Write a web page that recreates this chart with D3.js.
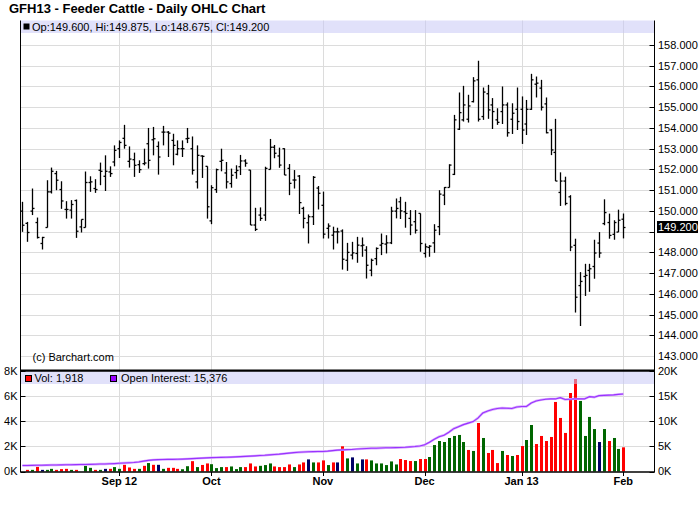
<!DOCTYPE html>
<html><head><meta charset="utf-8">
<script src="https://cdn.jsdelivr.net/npm/d3@7/dist/d3.min.js"></script>
<style>
body{margin:0;background:#fff;}
text{font-family:"Liberation Sans",Arial,sans-serif;}
</style></head>
<body><svg id="c" width="700" height="512"></svg>
<script>
// ---------- DATA ----------
const opens = [149.99,149.40,149.99,149.44,148.43,149.20,150.92,151.80,151.03,150.07,150.04,150.50,149.23,149.20,151.37,151.08,151.96,151.67,151.88,152.36,
153.00,153.50,152.39,152.47,152.23,152.28,153.24,153.43,153.11,153.80,153.80,153.40,152.73,153.00,153.48,153.00,151.40,152.65,152.15,149.52,
151.03,152.39,151.83,151.32,151.85,152.13,152.41,151.97,149.32,149.80,149.80,152.00,153.07,152.65,153.00,152.05,151.49,151.68,150.12,149.43,
149.72,151.10,150.27,149.16,148.83,148.99,149.03,147.62,147.87,147.95,148.32,148.11,147.14,147.70,148.35,148.40,148.46,149.99,150.44,149.96,
149.64,149.48,149.88,147.95,148.24,148.46,149.24,150.76,151.13,151.76,153.94,154.39,154.42,155.27,156.32,154.55,155.65,155.11,154.39,154.79,
155.11,154.42,154.90,154.90,154.19,154.90,156.11,155.92,155.16,153.90,152.82,150.89,151.44,150.68,148.34,146.40,146.84,147.13,147.32,148.45,
149.39,149.44,148.87,148.98,149.60];
const highs = [150.44,149.47,151.08,149.68,148.75,151.48,152.09,151.93,151.43,150.47,150.52,150.55,149.59,151.90,151.67,151.53,152.33,152.68,152.15,153.16,
153.40,154.15,153.11,152.81,152.44,153.00,154.00,154.05,153.35,154.10,153.85,153.72,153.40,153.40,154.00,153.59,153.16,152.68,152.15,151.24,
152.04,153.00,152.36,152.04,152.20,152.70,152.49,151.97,150.15,150.17,152.13,153.47,153.18,153.05,153.02,152.26,151.97,151.73,150.20,149.83,
151.68,151.20,150.93,149.40,149.24,149.19,149.11,148.46,148.51,148.75,148.72,148.30,147.70,148.24,148.91,148.83,150.20,150.60,150.68,150.44,
150.04,150.04,149.88,148.43,148.35,149.36,151.00,151.15,152.25,154.63,155.71,156.03,155.60,156.45,157.24,155.95,156.08,155.44,154.95,156.00,
155.23,155.19,155.95,155.52,155.35,156.61,156.48,156.32,155.47,153.95,154.44,151.86,151.65,150.76,148.66,147.05,147.45,147.45,148.61,148.98,
150.56,149.87,149.55,150.06,149.875];
const lows = [148.99,148.51,149.80,148.67,148.14,149.20,150.84,151.00,150.10,149.63,149.63,148.70,148.96,149.20,150.92,150.87,151.24,150.96,151.64,152.15,
152.55,153.00,152.09,151.64,151.83,152.20,152.04,152.68,151.75,153.16,152.60,152.20,152.68,152.60,153.27,151.75,151.08,151.59,149.63,149.36,
150.87,151.91,151.08,151.12,151.55,151.73,152.13,149.32,149.03,149.52,149.52,152.00,152.54,152.08,151.73,150.76,151.08,149.85,149.16,148.43,
149.32,150.07,148.67,148.67,148.14,148.43,147.17,147.11,147.66,147.50,147.79,146.74,146.85,147.38,147.87,147.95,148.40,149.64,149.61,149.19,
148.83,148.91,148.03,147.75,147.79,147.98,148.83,150.28,151.13,151.73,153.90,154.31,154.26,155.23,154.31,154.39,154.44,153.95,154.15,154.19,
153.58,153.71,153.90,153.23,153.66,154.87,155.47,154.84,153.74,152.69,151.44,150.24,150.27,148.06,145.10,144.45,145.90,146.10,146.73,147.74,
149.31,148.66,148.61,148.98,148.675];
const closes = [149.31,148.96,150.12,148.72,148.72,150.92,151.91,151.48,150.48,150.07,150.31,149.02,149.59,151.37,151.40,151.03,151.91,151.91,151.80,152.92,
153.30,153.16,152.50,152.20,151.99,152.31,152.44,153.48,152.60,153.80,153.75,153.16,153.00,153.00,153.50,151.96,152.68,152.63,150.20,151.12,
151.99,152.44,151.40,151.72,151.95,152.41,152.30,149.32,149.11,149.64,152.05,153.07,152.78,152.21,151.73,151.33,151.49,150.40,149.64,149.72,
151.62,150.85,148.88,149.27,148.99,148.99,147.67,148.00,147.98,148.35,148.35,147.38,147.62,148.19,148.43,148.46,149.99,150.12,150.00,149.88,
149.32,149.07,148.43,148.27,148.30,149.07,150.81,151.13,152.21,154.39,154.74,155.11,155.06,156.27,154.42,155.73,154.87,154.79,154.27,155.11,
153.77,154.71,154.31,153.90,154.90,156.32,156.16,155.00,153.77,152.94,151.44,151.44,150.36,148.26,145.84,146.60,146.89,147.21,147.97,147.97,
149.92,148.82,149.44,149.55,149.20];
// volume in thousands, direction vs previous close: u=up, d=down, n=unchanged
const volume = [0,0.13,0.13,0.37,0.13,0.13,0.21,0.13,0.19,0.21,0.13,0.13,0,0.45,0.29,0.13,0.13,0.21,0.21,0.35,
0.21,0.53,0.32,0.21,0.21,0.45,0.67,0.53,0.53,0.21,0.29,0.29,0.21,0.18,0.42,0.82,0.35,0.52,0.64,0.58,
0.27,0.35,0.35,0.40,0.19,0.35,0.35,0.64,0.40,0.45,0.51,0.64,0.40,0.35,0.35,0.56,0.35,0.56,0.72,0.96,
0.72,0.72,0.88,0.51,0.72,0.72,2.00,1.04,1.12,0.64,0.96,0.96,0.88,0.64,0.64,0.51,0.80,0.56,0.99,0.91,
0.83,0.83,0.99,0.99,1.15,2.10,2.42,2.34,2.66,2.82,2.90,2.34,1.71,1.63,3.85,2.66,1.47,1.71,0.67,1.63,
1.31,1.23,1.31,2.02,2.50,3.69,2.18,2.82,2.42,2.74,5.52,4.25,3.06,6.23,7.34,5.60,2.82,4.33,3.37,2.34,
3.37,2.42,2.66,1.79,1.918];
const volDir = ["u","d","u","d","n","u","u","d","d","d","u","d","u","u","u","d","u","n","d","u",
"u","d","d","d","u","d","u","d","n","u","d","d","d","u","u","d","u","d","d","u",
"u","u","d","u","u","u","d","d","d","u","u","u","d","d","d","d","u","d","d","n",
"u","d","d","u","d","n","d","u","n","u","n","d","u","u","u","u","u","u","d","d",
"d","u","d","d","u","u","u","u","u","u","u","u","d","u","d","u","d","d","d","u",
"d","u","d","d","u","u","d","d","d","d","d","d","d","d","d","u","u","u","u","n",
"u","d","u","u","d"];
// open interest in thousands
const openInterest = [1.20,1.20,1.22,1.24,1.25,1.27,1.28,1.30,1.32,1.33,1.35,1.37,1.38,1.40,1.42,1.45,1.48,1.50,1.53,1.57,
1.63,1.70,1.75,1.80,1.90,2.05,2.20,2.30,2.35,2.38,2.40,2.40,2.42,2.45,2.50,2.55,2.60,2.65,2.70,2.75,
2.78,2.80,2.82,2.85,2.90,2.95,3.00,3.05,3.10,3.17,3.22,3.30,3.38,3.45,3.55,3.65,3.75,3.82,3.88,3.92,
3.95,3.97,3.98,4.05,4.15,4.25,4.30,4.35,4.38,4.45,4.50,4.55,4.60,4.62,4.65,4.70,4.72,4.73,4.75,4.80,
4.88,4.95,5.05,5.30,5.80,6.40,6.90,7.20,7.80,8.50,8.90,9.30,9.60,9.90,10.60,11.60,12.00,12.30,12.50,12.60,
12.55,12.50,12.80,12.90,12.90,13.60,14.00,14.20,14.35,14.40,14.40,14.65,14.30,14.35,14.40,14.40,14.40,14.85,14.75,15.05,
15.10,15.15,15.20,15.30,15.376];
const monthLabels = ["Sep 12","Oct","Nov","Dec","Jan 13","Feb"];
const monthIndex = [20,39,62,83,103,124];
const priceTicks = [143,144,145,146,147,148,149,150,151,152,153,154,155,156,157,158];
const volTicks = [0,2,4,6,8];
const oiTicks = [0,5,10,15,20];
const lastPrice = 149.2;
const title = "GFH13 - Feeder Cattle - Daily OHLC Chart";
const legendPrice = "Op:149.600, Hi:149.875, Lo:148.675, Cl:149.200";
const legendVol = "Vol: 1,918";
const legendOI = "Open Interest: 15,376";

// ---------- LAYOUT ----------
const svg = d3.select("#c");
const L = 20.5, R = 654.5, T = 20.5, SEP = 370.7, B = 472;
const n = closes.length;
const x = d3.scaleLinear().domain([0, n-1]).range([22.4, 623.3]);
const y = d3.scaleLinear().domain([142.33, 159.205]).range([370, 20]);
const yv = d3.scaleLinear().domain([0, 8]).range([471.5, 370.7]);
const yoi = d3.scaleLinear().domain([0, 20]).range([471.5, 370.7]);
const grid = "#dcdcdc";
const band = "rgba(200,200,245,0.55)";

// gridlines price
svg.append("g").selectAll("line").data(priceTicks).join("line")
  .attr("x1", L).attr("x2", R).attr("y1", d=>Math.round(y(d))+0.5).attr("y2", d=>Math.round(y(d))+0.5)
  .attr("stroke", grid).attr("stroke-width", 1);
// gridlines volume
svg.append("g").selectAll("line").data(volTicks.filter(d=>d>0 && d<8)).join("line")
  .attr("x1", L).attr("x2", R).attr("y1", d=>Math.round(yv(d))+0.5).attr("y2", d=>Math.round(yv(d))+0.5)
  .attr("stroke", grid);
// vertical gridlines
svg.append("g").selectAll("line").data(monthIndex).join("line")
  .attr("x1", d=>Math.round(x(d))+0.5).attr("x2", d=>Math.round(x(d))+0.5)
  .attr("y1", T).attr("y2", B).attr("stroke", grid);

// OHLC bars
const g = svg.append("g").attr("stroke", "#000").attr("stroke-width", 1.3);
d3.range(n).forEach(i => {
  const cx = Math.round(x(i)) + 0.5;
  g.append("line").attr("x1", cx).attr("x2", cx).attr("y1", y(highs[i])).attr("y2", y(lows[i]));
  g.append("line").attr("x1", cx-2).attr("x2", cx).attr("y1", y(opens[i])).attr("y2", y(opens[i]));
  g.append("line").attr("x1", cx).attr("x2", cx+2).attr("y1", y(closes[i])).attr("y2", y(closes[i]));
});

// volume bars
const volColor = {u:"#006600", d:"#ff0000", n:"#000066"};
svg.append("g").selectAll("rect").data(volume).join("rect")
  .attr("x", (d,i)=>Math.round(x(i))-1)
  .attr("y", d=>yv(d)).attr("width", 3).attr("height", d=>yv(0)-yv(d))
  .attr("fill", (d,i)=>volColor[volDir[i]]);

// open interest line
const oiLine = d3.line().x((d,i)=>x(i)).y(d=>yoi(d));
svg.append("path").datum(openInterest).attr("d", oiLine).attr("fill","none")
  .attr("stroke","#d8a8ff").attr("stroke-width",2.4);
svg.append("path").datum(openInterest).attr("d", oiLine).attr("fill","none")
  .attr("stroke","#9933ff").attr("stroke-width",1.1);

// legend bands
svg.append("rect").attr("x", L).attr("y", T).attr("width", R-L).attr("height", 12.5).attr("fill", band);
svg.append("rect").attr("x", L).attr("y", SEP).attr("width", R-L).attr("height", 13.3).attr("fill", band);

// frame
svg.append("line").attr("x1", L).attr("x2", L).attr("y1", T).attr("y2", B).attr("stroke","#000");
svg.append("line").attr("x1", R).attr("x2", R).attr("y1", T).attr("y2", B).attr("stroke","#000");
svg.append("line").attr("x1", L).attr("x2", R).attr("y1", SEP).attr("y2", SEP).attr("stroke","#000").attr("stroke-width",2.2);
svg.append("line").attr("x1", L).attr("x2", R).attr("y1", B).attr("y2", B).attr("stroke","#000").attr("stroke-width",1.5);

// right price axis
const ax = svg.append("g");
ax.selectAll("line").data(priceTicks.filter(d=>d>=144)).join("line")
  .attr("x1", R-5).attr("x2", R).attr("y1", d=>Math.round(y(d))+0.5).attr("y2", d=>Math.round(y(d))+0.5).attr("stroke","#000");
ax.selectAll("text").data(priceTicks.filter(d=>d>=143 && d!==149)).join("text")
  .attr("x", 658).attr("y", d=>y(d)).attr("dy","0.36em").attr("font-size",11)
  .text(d=>d3.format(".3f")(d));
svg.append("rect").attr("x",657).attr("y", y(lastPrice)-6.5).attr("width",41).attr("height",12).attr("fill","#000");
svg.append("text").attr("x",658).attr("y", y(lastPrice)).attr("dy","0.36em").attr("font-size",11).attr("fill","#fff")
  .text(d3.format(".3f")(lastPrice));

// volume axes
svg.append("g").selectAll("line").data(volTicks).join("line")
  .attr("x1", L).attr("x2", L+5).attr("y1", d=>Math.round(yv(d))+0.5).attr("y2", d=>Math.round(yv(d))+0.5).attr("stroke","#000");
svg.append("g").selectAll("text").data(volTicks).join("text")
  .attr("x", 17.5).attr("y", d=>yv(d)).attr("dy","0.36em").attr("text-anchor","end").attr("font-size",11)
  .text(d=>d+"K");
svg.append("g").selectAll("line").data(oiTicks).join("line")
  .attr("x1", R-5).attr("x2", R).attr("y1", d=>Math.round(yoi(d))+0.5).attr("y2", d=>Math.round(yoi(d))+0.5).attr("stroke","#000");
svg.append("g").selectAll("text").data(oiTicks).join("text")
  .attr("x", 658).attr("y", d=>yoi(d)).attr("dy","0.36em").attr("font-size",11)
  .text(d=>d+"K");

// x axis
svg.append("g").selectAll("line").data(monthIndex).join("line")
  .attr("x1", d=>Math.round(x(d))+0.5).attr("x2", d=>Math.round(x(d))+0.5)
  .attr("y1", B).attr("y2", B+4).attr("stroke","#000");
svg.append("g").selectAll("text").data(monthIndex).join("text")
  .attr("x", d=>x(d)).attr("y", 485).attr("text-anchor","middle").attr("font-size",11).attr("font-weight","bold")
  .text((d,i)=>monthLabels[i]);

// texts
svg.append("text").attr("x",9).attr("y",13).attr("font-size",13).attr("font-weight","bold").text(title);
svg.append("rect").attr("x",23.5).attr("y",23.5).attr("width",6).attr("height",6).attr("fill","#000");
svg.append("text").attr("x",32).attr("y",30.5).attr("font-size",11).text(legendPrice);
svg.append("rect").attr("x",25.5).attr("y",375.5).attr("width",6).attr("height",6).attr("fill","#ff0000").attr("stroke","#000");
svg.append("text").attr("x",34.5).attr("y",382).attr("font-size",11).text(legendVol);
svg.append("rect").attr("x",110.5).attr("y",375.5).attr("width",6).attr("height",6).attr("fill","#9900ff").attr("stroke","#000");
svg.append("text").attr("x",121).attr("y",382).attr("font-size",11).text(legendOI);
svg.append("text").attr("x",32.5).attr("y",360.5).attr("font-size",11).text("(c) Barchart.com");
</script></body></html>
